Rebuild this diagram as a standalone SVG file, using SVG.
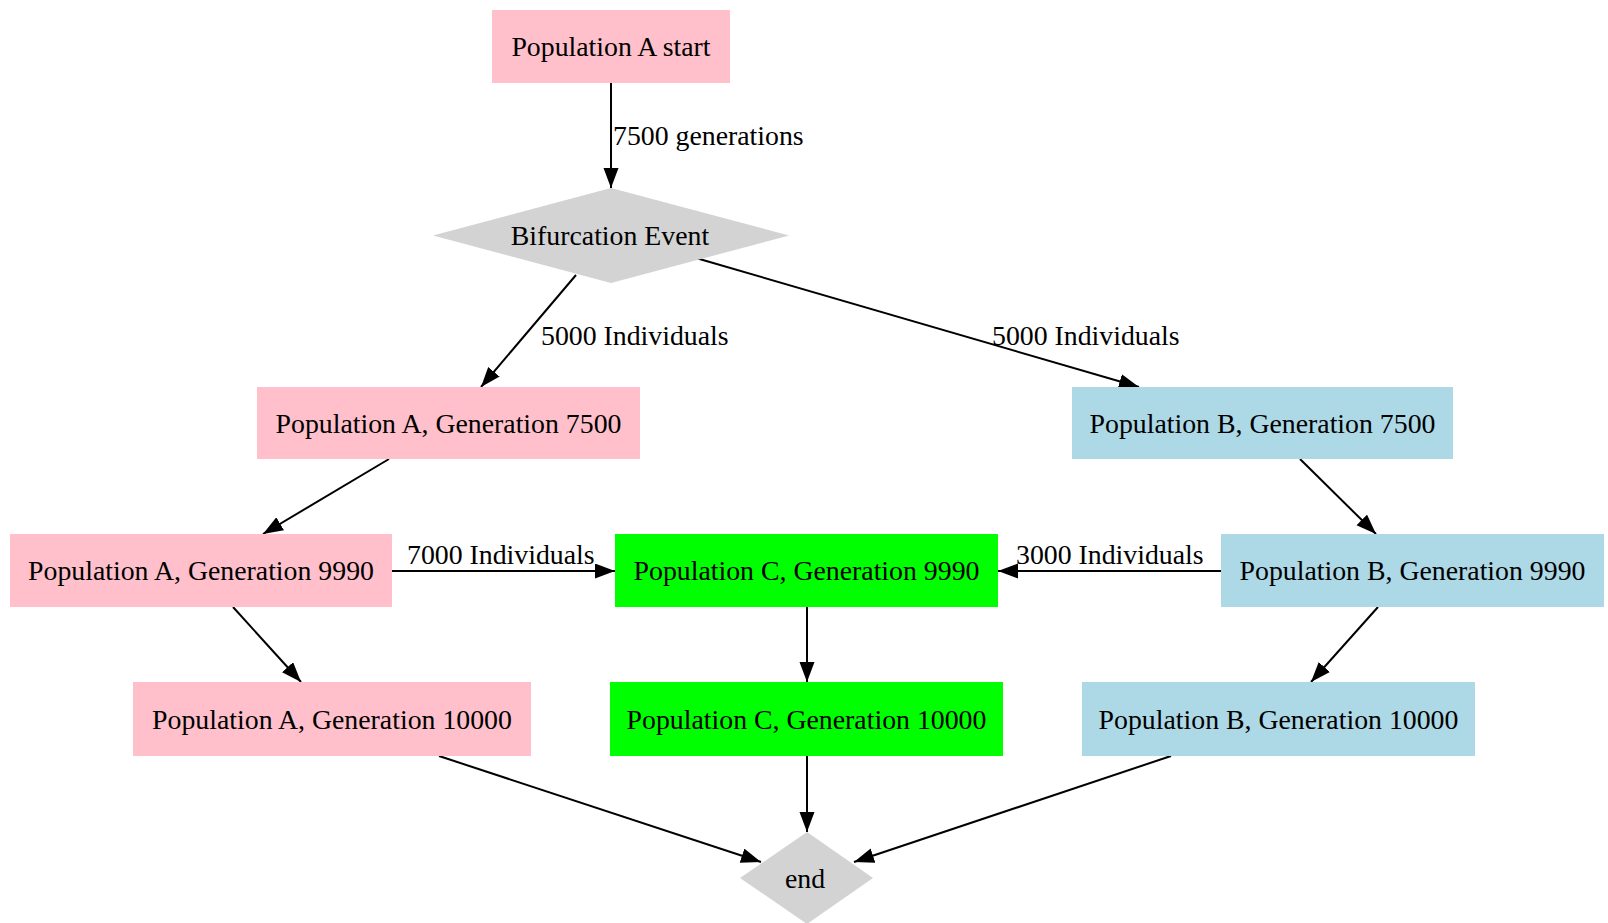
<svg xmlns="http://www.w3.org/2000/svg" width="1608" height="923" viewBox="0 0 1608 923">
<style>
.lbl{font-family:"Liberation Serif","Times New Roman",serif;font-size:27.8px;fill:#000}
.c{text-anchor:middle}
.pink{fill:#FFC0CB}
.blue{fill:#ADD8E6}
.green{fill:#00FF00}
.grey{fill:#D3D3D3}
.edge{stroke:#000;stroke-width:2;fill:none;marker-end:url(#ah)}
</style>
<defs>
<marker id="ah" markerUnits="userSpaceOnUse" markerWidth="21" markerHeight="16" refX="20" refY="7.5" orient="auto">
<path d="M0,0 L20,7.5 L0,15 Z" fill="#000"/>
</marker>
</defs>
<g id="connectors">
<line class="edge" x1="611" y1="83" x2="611" y2="188"/>
<text class="lbl" x="613" y="145">7500 generations</text>
<line class="edge" x1="576" y1="275" x2="481" y2="387"/>
<text class="lbl" x="541" y="345">5000 Individuals</text>
<line class="edge" x1="696" y1="258" x2="1139" y2="387"/>
<text class="lbl" x="992" y="345">5000 Individuals</text>
<line class="edge" x1="389" y1="459" x2="263" y2="534"/>
<line class="edge" x1="1300" y1="459" x2="1376" y2="534"/>
<line class="edge" x1="392" y1="571" x2="615" y2="571"/>
<text class="lbl" x="407" y="564">7000 Individuals</text>
<line class="edge" x1="1221" y1="571" x2="998" y2="571"/>
<text class="lbl" x="1016" y="564">3000 Individuals</text>
<line class="edge" x1="233" y1="607" x2="301" y2="682"/>
<line class="edge" x1="807" y1="607" x2="807" y2="682"/>
<line class="edge" x1="1378" y1="607" x2="1311" y2="682"/>
<line class="edge" x1="439" y1="756" x2="761" y2="862"/>
<line class="edge" x1="807" y1="756" x2="807" y2="832"/>
<line class="edge" x1="1171" y1="756" x2="854" y2="862"/>
</g>
<g id="popA_start">
<rect class="pink" x="492" y="10" width="238" height="73"/>
<text class="lbl c" x="611" y="56">Population A start</text>
</g>
<g id="bifurcation">
<polygon class="grey" points="611,188 789,235.5 611,283 433,235.5"/>
<text class="lbl c" x="610" y="245">Bifurcation Event</text>
</g>
<g id="popA_7500">
<rect class="pink" x="257" y="387" width="383" height="72"/>
<text class="lbl c" x="448.5" y="433">Population A, Generation 7500</text>
</g>
<g id="popB_7500">
<rect class="blue" x="1072" y="387" width="381" height="72"/>
<text class="lbl c" x="1262.5" y="433">Population B, Generation 7500</text>
</g>
<g id="popA_9990">
<rect class="pink" x="10" y="534" width="382" height="73"/>
<text class="lbl c" x="201" y="580">Population A, Generation 9990</text>
</g>
<g id="popC_9990">
<rect class="green" x="615" y="534" width="383" height="73"/>
<text class="lbl c" x="806.5" y="580">Population C, Generation 9990</text>
</g>
<g id="popB_9990">
<rect class="blue" x="1221" y="534" width="383" height="73"/>
<text class="lbl c" x="1412.5" y="580">Population B, Generation 9990</text>
</g>
<g id="popA_10000">
<rect class="pink" x="133" y="682" width="398" height="74"/>
<text class="lbl c" x="332" y="729">Population A, Generation 10000</text>
</g>
<g id="popC_10000">
<rect class="green" x="610" y="682" width="393" height="74"/>
<text class="lbl c" x="806.5" y="729">Population C, Generation 10000</text>
</g>
<g id="popB_10000">
<rect class="blue" x="1082" y="682" width="393" height="74"/>
<text class="lbl c" x="1278.5" y="729">Population B, Generation 10000</text>
</g>
<g id="end">
<polygon class="grey" points="807,832 873,878 807,924 740,878"/>
<text class="lbl c" x="805" y="888">end</text>
</g>
</svg>
